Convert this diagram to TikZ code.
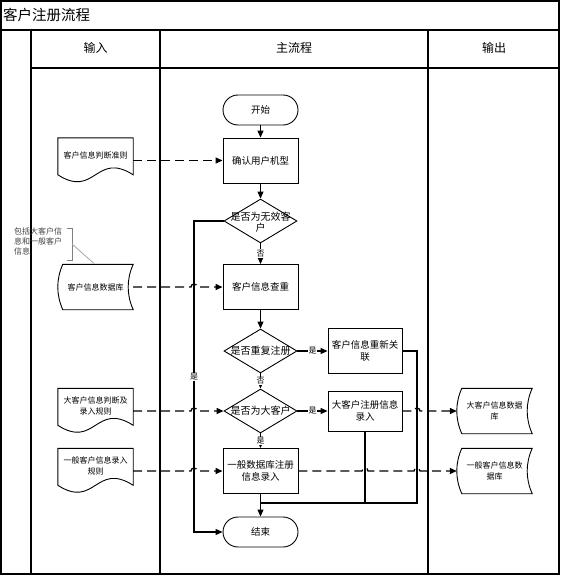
\documentclass[tikz,border=0pt]{standalone}
\usepackage{fontspec}
\setmainfont{Noto Sans CJK SC}
\usetikzlibrary{shapes.geometric,arrows.meta,calc}
\newcommand{\mydocshape}[1]{%
  \draw[line width=0.9pt] (#1.north west) -- (#1.north east) -- ($(#1.north east)+(0,37)$)
    .. controls ($(#1.north east)+(-37.5,13)$) and ($(#1.north west)+(37.5,61)$) ..
    ($(#1.north west)+(0,37)$) -- cycle;}
\newcommand{\mydbshape}[1]{%
  \draw[line width=0.9pt] ($(#1.north west)+(5,0)$) -- (#1.north east)
    .. controls ($(#1.north east)+(-6.7,15)$) and ($(#1.south east)+(-6.7,-15)$) .. (#1.south east)
    -- ($(#1.south west)+(5,0)$)
    .. controls ($(#1.south west)+(-1.7,-15)$) and ($(#1.north west)+(-1.7,15)$) .. ($(#1.north west)+(5,0)$) -- cycle;}
\tikzset{
  box/.style={draw, line width=0.9pt, minimum width=75pt, minimum height=45pt, inner sep=1pt, align=center, font=\fontsize{9.5}{11.5}\selectfont},
  term/.style={draw, line width=0.9pt, rounded corners=15pt, minimum width=75pt, minimum height=30pt, font=\fontsize{9.5}{11}\selectfont},
  dia/.style={draw, shape=diamond, line width=0.9pt, minimum width=73pt, minimum height=44pt, inner sep=0pt},
  dtext/.style={align=center, font=\fontsize{10}{11}\selectfont},
  holder/.style={minimum width=75pt, minimum height=45pt, inner sep=0pt},
  docfont/.style={align=center, font=\fontsize{8}{10.5}\selectfont},
  flow/.style={line width=1.2pt, -{Triangle[length=7pt,width=6pt]}},
  plainline/.style={line width=1.2pt},
  dashflow/.style={line width=1.3pt, dash pattern=on 9pt off 5pt, -{Triangle[length=7pt,width=6pt]}},
  yn/.style={fill=white, inner sep=0.6pt, font=\fontsize{8}{9}\selectfont},
  lane/.style={line width=1.1pt},
}
\begin{document}
\begin{tikzpicture}[x=1pt,y=-1pt]
\useasboundingbox (0,0) rectangle (560,575);
% frame
\draw[line width=1.6pt] (1,1) rectangle (559,574);
\draw[lane] (1,30) -- (559,30);
\draw[lane] (31,68) -- (559,68);
\draw[lane] (31,30) -- (31,574);
\draw[lane] (160,30) -- (160,574);
\draw[lane] (428,30) -- (428,574);
\node[anchor=west, inner sep=0pt, font=\fontsize{14.5}{16}\selectfont] (title) at (3,15) {客户注册流程};
\node[font=\fontsize{12}{14}\selectfont] (h1) at (95.5,48) {输入};
\node[font=\fontsize{12}{14}\selectfont] (h2) at (294,48) {主流程};
\node[font=\fontsize{12}{14}\selectfont] (h3) at (494,48) {输出};

% main flow
\node[term] (start) at (260.5,110) {开始};
\node[box] (confirm) at (260.5,160.5) {确认用户机型};
\node[dia] (d1) at (260.5,221) {};
\node[dtext] (d1t) at (260.5,222) {是否为无效客\\户};
\node[box] (check) at (260.5,287) {客户信息查重};
\node[dia] (d2) at (260.5,351) {};
\node[dtext] (d2t) at (260.5,351) {是否重复注册};
\node[box, minimum width=74pt] (relink) at (365,351) {客户信息重新关\\联};
\node[dia] (d3) at (260.5,411) {};
\node[dtext] (d3t) at (260.5,411) {是否为大客户};
\node[box, minimum width=74pt, minimum height=40pt] (big) at (365,411) {大客户注册信息\\录入};
\node[box] (general) at (260.5,471) {一般数据库注册\\信息录入};
\node[term] (end) at (260.5,532) {结束};

% left documents
\node[holder] (doc1) at (95.5,160.5) {};
\mydocshape{doc1}
\node[docfont] (doc1t) at ([yshift=5pt]doc1.center) {客户信息判断准则};
\node[holder] (db1) at (95.5,287) {};
\mydbshape{db1}
\node[docfont] (db1t) at (db1.center) {客户信息数据库};
\node[holder] (doc2) at (95.5,411) {};
\mydocshape{doc2}
\node[docfont] (doc2t) at ([yshift=5pt]doc2.center) {大客户信息判断及\\录入规则};
\node[holder] (doc3) at (95.5,471) {};
\mydocshape{doc3}
\node[docfont] (doc3t) at ([yshift=5pt]doc3.center) {一般客户信息录入\\规则};

% right databases
\node[holder] (db2) at (494.5,411) {};
\mydbshape{db2}
\node[docfont] (db2t) at (db2.center) {大客户信息数据\\库};
\node[holder] (db3) at (494.5,471) {};
\mydbshape{db3}
\node[docfont] (db3t) at (db3.center) {一般客户信息数\\据库};

% annotation
\node[anchor=north west, align=left, inner sep=0pt, text=black!75, font=\fontsize{8}{10}\selectfont] (note) at (14,228) {包括大客户信\\息和一般客户\\信息};
\coordinate (br) at (72,244);
\draw[gray, line width=0.8pt] (67,228) -- (72,228) -- (72,260) -- (67,260);
\draw[gray!70, line width=0.8pt] (br) -- ($(db1.north west)+(36,-1)$);

% coordinates
\coordinate (c1) at (194,221);
\coordinate (j1) at (260.5,503);
\coordinate (j2) at (417,503);

% solid connectors
\draw[flow] (start) -- (confirm);
\draw[flow] (confirm) -- (d1);
\draw[flow] (d1) -- (check);
\draw[flow] (check) -- (d2);
\draw[flow] (d2) -- (relink);
\draw[flow] (d2) -- (d3);
\draw[flow] (d3) -- (big);
\draw[flow] (d3) -- (general);
\draw[flow] (general) -- (end);
\draw[flow] (d1.west) -- (c1) -- (c1 |- end.west) -- (end.west);
\draw[plainline] (relink.east) -| (j2) -- (j1);
\draw[plainline] (big.south) -- (big.south |- j1);

% yes/no labels
\node[yn] (n1) at (260.5,253.5) {否};
\node[yn] (y1) at (312.5,351) {是};
\node[yn] (n2) at (260.5,381) {否};
\node[yn] (y2) at (312.5,411) {是};
\node[yn] (y3) at (260.5,441) {是};
\node[yn] (y0) at (194,377) {是};

% dashed connectors
\draw[dashflow] (doc1.east) -- (confirm.west);
\draw[dashflow] (db1.east) -- ($(db1.east -| c1)+(-3,0)$) arc[start angle=180, end angle=0, radius=3pt] -- (check.west);
\draw[dashflow] (doc2.east) -- ($(doc2.east -| c1)+(-3,0)$) arc[start angle=180, end angle=0, radius=3pt] -- (d3.west);
\draw[dashflow] (doc3.east) -- ($(doc3.east -| c1)+(-3,0)$) arc[start angle=180, end angle=0, radius=3pt] -- (general.west);
\draw[dashflow] (big.east) -- ($(big.east -| j2)+(-3,0)$) arc[start angle=180, end angle=0, radius=3pt] -- (db2.west);
\draw[dashflow] (general.east) -- ($(general.east -| big.south)+(-3,0)$) arc[start angle=180, end angle=0, radius=3pt] -- ($(general.east -| j2)+(-3,0)$) arc[start angle=180, end angle=0, radius=3pt] -- (db3.west);
\end{tikzpicture}
\end{document}
